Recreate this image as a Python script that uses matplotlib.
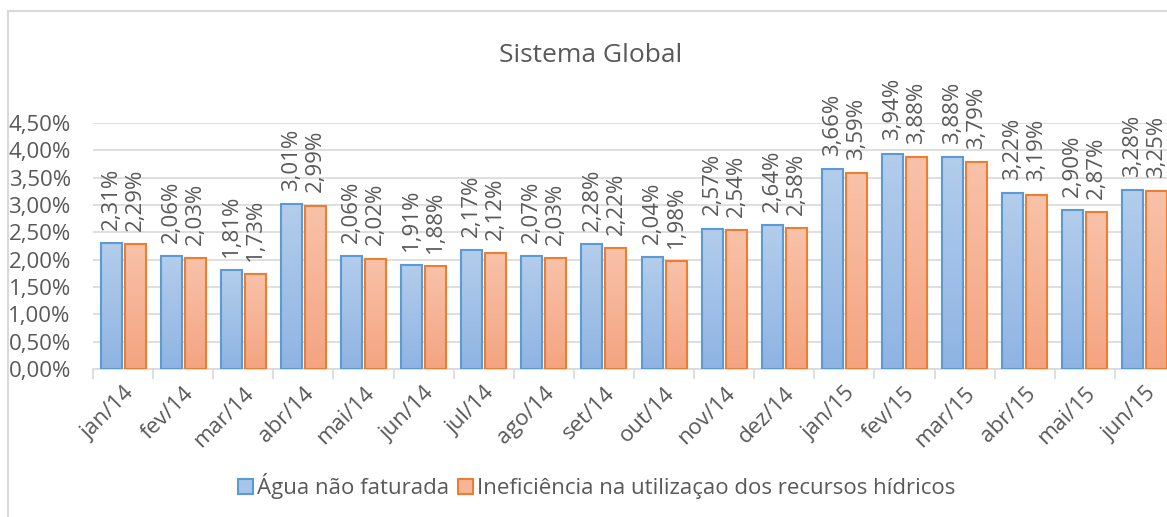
import numpy as np
import matplotlib.pyplot as plt
from matplotlib.lines import Line2D
from matplotlib.patches import Patch
from matplotlib.colors import LinearSegmentedColormap
from matplotlib.transforms import ScaledTranslation

plt.rcParams['font.family'] = ['Open Sans', 'DejaVu Sans']

meses = ["jan/14", "fev/14", "mar/14", "abr/14", "mai/14", "jun/14", "jul/14",
         "ago/14", "set/14", "out/14", "nov/14", "dez/14", "jan/15", "fev/15",
         "mar/15", "abr/15", "mai/15", "jun/15"]
agua_nao_faturada = [2.31, 2.06, 1.81, 3.01, 2.06, 1.91, 2.17, 2.07, 2.28,
                     2.04, 2.57, 2.64, 3.66, 3.94, 3.88, 3.22, 2.90, 3.28]
ineficiencia = [2.29, 2.03, 1.73, 2.99, 2.02, 1.88, 2.12, 2.03, 2.22,
                1.98, 2.54, 2.58, 3.59, 3.88, 3.79, 3.19, 2.87, 3.25]
serie_nomes = ["Água não faturada", "Ineficiência na utilizaçao dos recursos hídricos"]
y_ticks = [0, 0.5, 1.0, 1.5, 2.0, 2.5, 3.0, 3.5, 4.0, 4.5]

cinza = "#595959"
grade = "#d9d9d9"
azul_borda, laranja_borda = "#5b9bd5", "#ed7d31"
azul_grad = LinearSegmentedColormap.from_list("az", ["#8fb4e3", "#b3cdeb"])
laranja_grad = LinearSegmentedColormap.from_list("la", ["#f4a481", "#f8c2a9"])

fig = plt.figure(figsize=(11.67, 5.17), dpi=100)
ax = fig.add_axes([93 / 1167, 148 / 517, 1082 / 1167, 246 / 517])

x = np.arange(len(meses))
w = 0.35
gap = 0.05
grad = np.linspace(0, 1, 100).reshape(-1, 1)

def barras(pos, vals, cmap, borda):
    bars = ax.bar(pos, vals, w, facecolor="none", edgecolor=borda, linewidth=1.5, zorder=4)
    for b in bars:
        x0 = b.get_x()
        h = b.get_height()
        ax.imshow(grad, cmap=cmap, origin="lower", aspect="auto",
                  extent=[x0, x0 + b.get_width(), 0, h], zorder=3)
    for p, v in zip(pos, vals):
        ax.text(p, v + 0.24, ("%.2f%%" % v).replace(".", ","), rotation=90,
                ha="center", va="bottom", fontsize=16, color=cinza, zorder=5)

pos_a = x - (w + gap) / 2
pos_b = x + (w + gap) / 2
barras(pos_a, agua_nao_faturada, azul_grad, azul_borda)
barras(pos_b, ineficiencia, laranja_grad, laranja_borda)

ax.set_xlim(-0.5, len(meses) - 0.5)
ax.set_ylim(0, 4.5)
ax.set_yticks(y_ticks)
ax.set_yticklabels([("%.2f%%" % t).replace(".", ",") for t in y_ticks],
                   fontsize=16, color=cinza)
ax.tick_params(axis="y", length=0, pad=16)
ax.set_xticks(x)
ax.set_xticklabels(meses, rotation=45, ha="right", rotation_mode="anchor",
                   fontsize=16, color=cinza)
desloc = ScaledTranslation(7 / 100, 0, fig.dpi_scale_trans)
for lab in ax.get_xticklabels():
    lab.set_transform(lab.get_transform() + desloc)
ax.set_xticks(np.arange(len(meses) + 1) - 0.5, minor=True)
ax.tick_params(axis="x", which="major", length=0, pad=10)
ax.tick_params(axis="x", which="minor", length=7, width=1.2, color=grade)
ax.yaxis.grid(True, color=grade, linewidth=1.2, zorder=0)
ax.set_axisbelow(True)
for s in ["top", "right", "left"]:
    ax.spines[s].set_visible(False)
ax.spines["bottom"].set_color(grade)
ax.spines["bottom"].set_linewidth(1.2)

fig.text(591 / 1167, 1 - 55 / 517, "Sistema Global", ha="center", va="center",
         fontsize=19, color=cinza)

handles = [Patch(facecolor="#a8c4e8", edgecolor=azul_borda, linewidth=1.5),
           Patch(facecolor="#f6b596", edgecolor=laranja_borda, linewidth=1.5)]
fig.legend(handles, serie_nomes, loc="center", bbox_to_anchor=(597 / 1167, 1 - 486 / 517),
           ncol=2, frameon=False, fontsize=16, labelcolor=cinza,
           handlelength=0.65, handleheight=0.65, handletextpad=0.2, columnspacing=0.4)

fig.add_artist(Line2D([7.5 / 1167, 7.5 / 1167], [0, 1 - 11 / 517], color=grade, linewidth=1.5))
fig.add_artist(Line2D([7.5 / 1167, 1], [1 - 11 / 517, 1 - 11 / 517], color=grade, linewidth=1.5))

fig.savefig("out.png", dpi=100)
